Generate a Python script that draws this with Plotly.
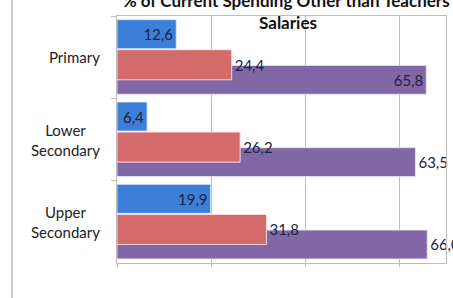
import plotly.graph_objects as go

categories = ["Primary", "Lower Secondary", "Upper Secondary"]
category_labels = ["Primary", "Lower<br>Secondary", "Upper<br>Secondary"]
series_blue = [12.6, 6.4, 19.9]
series_red = [24.4, 26.2, 31.8]
series_purple = [65.8, 63.5, 66.0]
title_text = "% of Current Spending Other than Teachers' Salaries"

W, H = 453, 298
def px(x):
    return x / W
def py(y):
    return 1 - y / H

def fmt(v):
    return f"{v:.1f}".replace(".", ",")

txt_color = "#1e2340"
font_fam = "Lato, 'Open Sans', sans-serif"

fig = go.Figure()
fig.add_trace(go.Bar(
    y=categories, x=series_purple, orientation="h",
    offset=0.10, width=0.35,
    marker=dict(color="#8167a6", line=dict(color="rgba(235,230,245,0.8)", width=1)),
    text=[fmt(v) for v in series_purple],
    textposition=["inside", "outside", "outside"],
    insidetextanchor="end",
    textfont=dict(color=txt_color, size=15, family=font_fam),
    cliponaxis=False, showlegend=False, hoverinfo="skip",
))
fig.add_trace(go.Bar(
    y=categories, x=series_red, orientation="h",
    offset=-0.09, width=0.365,
    marker=dict(color="#d26b6a", line=dict(color="rgba(255,225,225,0.9)", width=1)),
    text=[fmt(v) for v in series_red],
    textposition="outside",
    textfont=dict(color=txt_color, size=15, family=font_fam),
    cliponaxis=False, showlegend=False, hoverinfo="skip",
))
fig.add_trace(go.Bar(
    y=categories, x=series_blue, orientation="h",
    offset=-0.455, width=0.352,
    marker=dict(color="#3b7fd8", line=dict(color="rgba(220,235,255,0.8)", width=1)),
    text=[fmt(v) for v in series_blue],
    textposition="inside",
    insidetextanchor="end",
    textfont=dict(color=txt_color, size=15, family=font_fam),
    cliponaxis=False, showlegend=False, hoverinfo="skip",
))

for cat, lab in zip(categories, category_labels):
    fig.add_annotation(
        x=px(102), xref="paper", y=cat, yref="y",
        text=lab, showarrow=False, xanchor="right", yanchor="middle",
        align="center", font=dict(size=15, color="#222222", family=font_fam),
    )

fig.update_layout(
    width=W, height=H,
    margin=dict(l=0, r=0, t=0, b=0),
    paper_bgcolor="white", plot_bgcolor="white",
    barmode="overlay",
    title=dict(
        text=title_text.replace(" Salaries", "<br>Salaries"),
        x=px(288), xanchor="center", y=py(7), yanchor="middle",
        font=dict(size=17, color="#111111", family=font_fam, weight="bold"),
    ),
    xaxis=dict(
        domain=[px(117), px(446)], range=[0, 70], dtick=20,
        showgrid=True, gridcolor="#bdbdbd", gridwidth=1,
        showticklabels=False, zeroline=False,
        showline=True, linecolor="#bdbdbd", linewidth=1, mirror=True,
        ticks="outside", ticklen=3, tickcolor="#bdbdbd",
    ),
    yaxis=dict(
        domain=[py(263), py(16)], autorange="reversed",
        type="category", categoryorder="array", categoryarray=categories,
        showticklabels=False, showgrid=False,
        showline=True, linecolor="#bdbdbd", linewidth=1, mirror=True,
        ticks="outside", ticklen=5, tickcolor="#bdbdbd", tickson="boundaries",
    ),
    shapes=[dict(type="line", xref="paper", yref="paper",
                 x0=px(12), x1=px(12), y0=py(320), y1=py(-20),
                 line=dict(color="#9a9a9a", width=1), layer="below")],
)

fig.write_html("out.html", config={"displayModeBar": False},
               post_script="document.body.style.margin='0';document.body.style.overflow='hidden';")
